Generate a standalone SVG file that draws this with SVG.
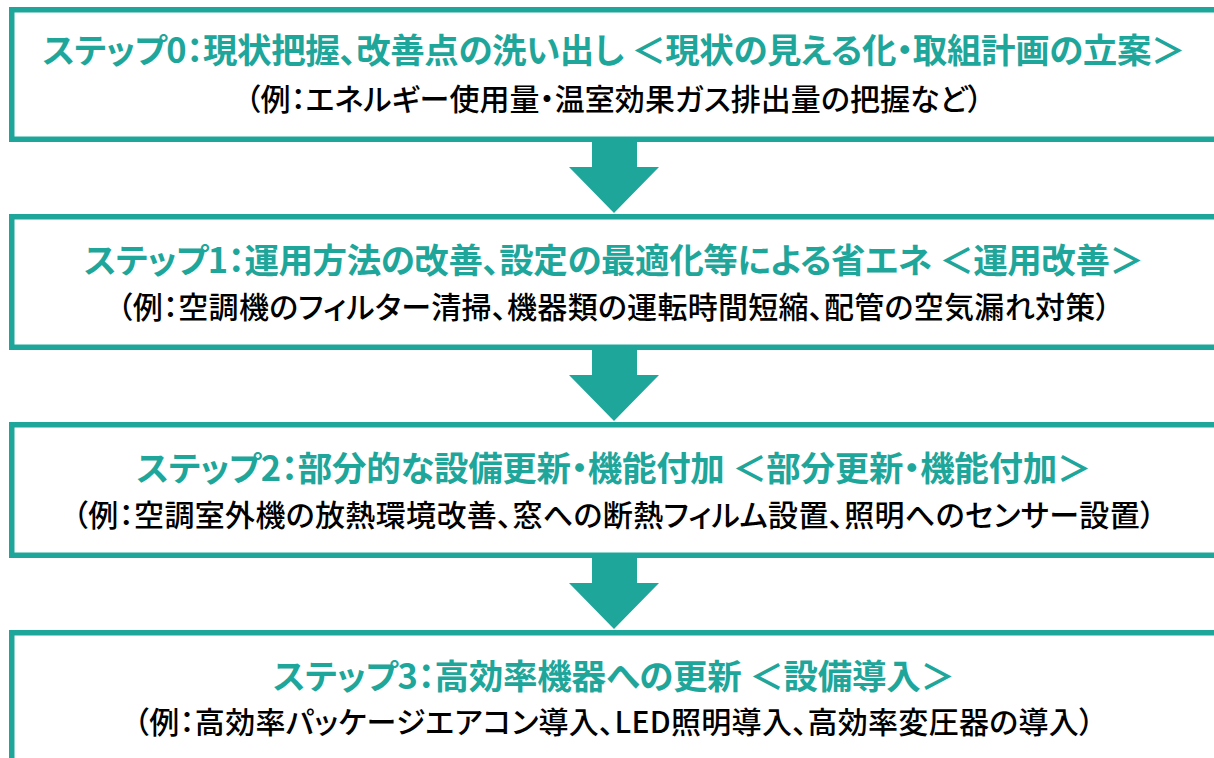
<svg xmlns="http://www.w3.org/2000/svg" width="1214" height="758" viewBox="0 0 1214 758">
<style>
.box{fill:#ffffff;stroke:#1fa69b;stroke-width:5.5}
.arrow{fill:#1fa69b}
.title{font-family:"Noto Sans CJK JP","Noto Sans",sans-serif;font-weight:700;font-size:34.5px;fill:#1fa69b;text-anchor:middle;dominant-baseline:central;font-feature-settings:"palt"}
.sub{font-family:"Noto Sans CJK JP","Noto Sans",sans-serif;font-weight:500;font-size:30px;fill:#000000;text-anchor:middle;dominant-baseline:central;font-feature-settings:"palt"}
</style>
<rect width="1214" height="758" fill="#ffffff"/>
<g id="step0">
<rect class="box" x="11.75" y="9.75" width="1205" height="129.5"/>
<text class="title" x="614" y="48" textLength="1143" lengthAdjust="spacing">ステップ0：現状把握、改善点の洗い出し ＜現状の見える化・取組計画の立案＞</text>
<text class="sub" x="614" y="97" textLength="737" lengthAdjust="spacing">（例：エネルギー使用量・温室効果ガス排出量の把握など）</text>
</g>
<g id="step1">
<rect class="box" x="11.75" y="216.75" width="1205" height="130.5"/>
<text class="title" x="614" y="258" textLength="1060" lengthAdjust="spacing">ステップ1：運用方法の改善、設定の最適化等による省エネ ＜運用改善＞</text>
<text class="sub" x="614" y="305" textLength="993" lengthAdjust="spacing">（例：空調機のフィルター清掃、機器類の運転時間短縮、配管の空気漏れ対策）</text>
</g>
<g id="step2">
<rect class="box" x="11.75" y="424.75" width="1205" height="130.5"/>
<text class="title" x="614" y="466" textLength="955" lengthAdjust="spacing">ステップ2：部分的な設備更新・機能付加 ＜部分更新・機能付加＞</text>
<text class="sub" x="614" y="513" textLength="1082" lengthAdjust="spacing">（例：空調室外機の放熱環境改善、窓への断熱フィルム設置、照明へのセンサー設置）</text>
</g>
<g id="step3">
<rect class="box" x="11.75" y="632.75" width="1208" height="140"/>
<text class="title" x="614" y="674" textLength="682" lengthAdjust="spacing">ステップ3：高効率機器への更新 ＜設備導入＞</text>
<text class="sub" x="614" y="720" textLength="960" lengthAdjust="spacing">（例：高効率パッケージエアコン導入、LED照明導入、高効率変圧器の導入）</text>
</g>
<g id="connectors">
<polygon class="arrow" points="592,140 637,140 637,167 659,167 614,213 569,167 592,167"/>
<polygon class="arrow" points="592,348 637,348 637,375 659,375 614,421 569,375 592,375"/>
<polygon class="arrow" points="592,556 637,556 637,583 659,583 614,629 569,583 592,583"/>
</g>
</svg>
